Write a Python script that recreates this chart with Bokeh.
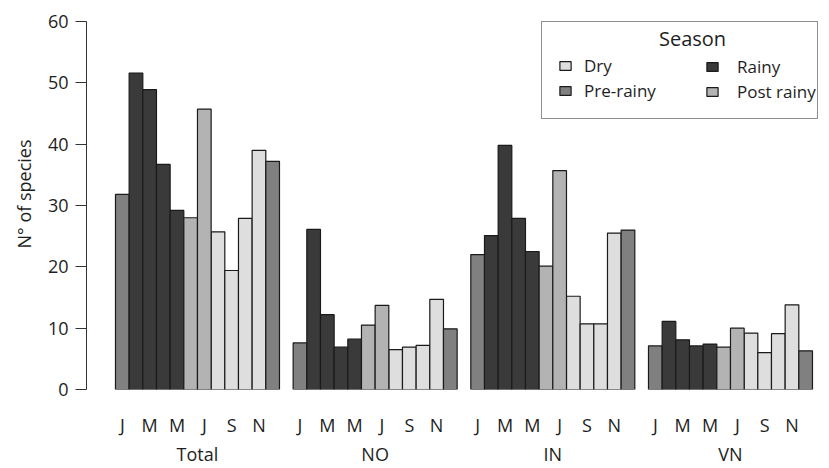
from bokeh.plotting import figure
from bokeh.models import (ColumnDataSource, FixedTicker, Legend, LegendItem,
                          Range1d, Label, LinearAxis, Title)
from bokeh.embed import file_html
from bokeh.resources import INLINE

# ---------------- data ----------------
sites = ["Total", "NO", "IN", "VN"]
months = ["Jan", "Feb", "Mar", "Apr", "May", "Jun",
          "Jul", "Aug", "Sep", "Oct", "Nov", "Dec"]
month_tick_months = ["Jan", "Mar", "May", "Jul", "Sep", "Nov"]
month_tick_labels = ["J", "M", "M", "J", "S", "N"]
month_season = ["Pre-rainy", "Rainy", "Rainy", "Rainy", "Rainy", "Post rainy",
                "Post rainy", "Dry", "Dry", "Dry", "Dry", "Pre-rainy"]
total_values = [31.8, 51.6, 48.9, 36.7, 29.2, 28.0, 45.7, 25.7, 19.4, 27.9, 39.0, 37.2]
no_values = [7.6, 26.1, 12.2, 6.9, 8.2, 10.5, 13.7, 6.5, 6.9, 7.2, 14.7, 9.9]
in_values = [22.0, 25.1, 39.8, 27.9, 22.5, 20.1, 35.7, 15.2, 10.7, 10.7, 25.5, 26.0]
vn_values = [7.1, 11.1, 8.1, 7.1, 7.4, 6.9, 10.0, 9.2, 6.0, 9.1, 13.8, 6.3]
seasons = ["Dry", "Pre-rainy", "Rainy", "Post rainy"]
season_colors = ["#dedede", "#808080", "#3a3a3a", "#b3b3b3"]
y_ticks = [0, 10, 20, 30, 40, 50, 60]

site_values = [total_values, no_values, in_values, vn_values]
FONT = "Open Sans"
TXT = "#1e1e1e"
GROUP_STEP = len(months) + 1  # one empty slot between sites


def xpos(g, m):
    return g * GROUP_STEP + m


p = figure(width=829, height=468, output_backend="svg", toolbar_location=None,
           x_range=Range1d(-2.62, 50.94), y_range=Range1d(0, 60),
           min_border_left=86, min_border_right=11, min_border_top=21,
           min_border_bottom=79)
p.outline_line_color = None
p.xgrid.visible = False
p.ygrid.visible = False
p.background_fill_color = "white"
p.border_fill_color = "white"

renderers = {}
for s, c in zip(seasons, season_colors):
    xs, tops = [], []
    for g, vals in enumerate(site_values):
        for m, v in enumerate(vals):
            if month_season[m] == s:
                xs.append(xpos(g, m))
                tops.append(v)
    src = ColumnDataSource(dict(x=xs, top=tops))
    renderers[s] = p.vbar(x="x", top="top", width=1.0, bottom=0, source=src,
                          fill_color=c, line_color="#1a1a1a", line_width=1.2)

# y axis
p.yaxis.ticker = FixedTicker(ticks=y_ticks)
p.yaxis.minor_tick_line_color = None
p.yaxis.major_tick_in = 0
p.yaxis.major_tick_out = 11
p.yaxis.axis_line_color = "#333333"
p.yaxis.major_tick_line_color = "#333333"
p.yaxis.major_label_text_font = FONT
p.yaxis.major_label_text_font_size = "18px"
p.yaxis.major_label_text_color = TXT
p.yaxis.major_label_standoff = 7

p.add_layout(Title(text="N° of species", align="left", offset=141,
                   text_font=FONT, text_font_size="18px",
                   text_font_style="normal", text_color=TXT, standoff=18),
             "left")

# x axis: month initials
ticks, overrides = [], {}
for g in range(len(sites)):
    for mname, lab in zip(month_tick_months, month_tick_labels):
        t = xpos(g, months.index(mname))
        ticks.append(t)
        overrides[t] = lab
xa = p.xaxis[0]
xa.ticker = FixedTicker(ticks=ticks)
xa.major_label_overrides = overrides
xa.axis_line_color = None
xa.major_tick_line_color = None
xa.minor_tick_line_color = None
xa.major_label_text_font = FONT
xa.major_label_text_font_size = "18px"
xa.major_label_text_color = TXT
xa.major_label_standoff = 17

# second x axis: site names
site_ticks = [xpos(g, 5.5) for g in range(len(sites))]
site_axis = LinearAxis(ticker=FixedTicker(ticks=site_ticks),
                       major_label_overrides=dict(zip(site_ticks, sites)))
site_axis.axis_line_color = None
site_axis.major_tick_line_color = None
site_axis.minor_tick_line_color = None
site_axis.major_label_text_font = FONT
site_axis.major_label_text_font_size = "18px"
site_axis.major_label_text_color = TXT
site_axis.major_label_standoff = -4
p.add_layout(site_axis, "below")

# legend: box + first column
items_a = [LegendItem(label=s, renderers=[renderers[s]]) for s in seasons[:2]]
leg_a = Legend(items=items_a, location="top_right", title="\u00a0")
leg_a.title_text_font_size = "10px"
leg_a.title_standoff = 5
leg_a.label_text_font = FONT
leg_a.label_text_font_size = "17px"
leg_a.label_text_color = TXT
leg_a.glyph_width = 14
leg_a.glyph_height = 11
leg_a.label_standoff = 12
leg_a.label_width = 217
leg_a.label_height = 20
leg_a.spacing = 2
leg_a.padding = 16
leg_a.margin = 0
leg_a.border_line_color = "#222222"
leg_a.border_line_width = 1
leg_a.background_fill_alpha = 0
p.add_layout(leg_a, "center")

# legend: second column
items_b = [LegendItem(label=s, renderers=[renderers[s]]) for s in seasons[2:]]
leg_b = Legend(items=items_b, location=(619, 286))
leg_b.label_text_font = FONT
leg_b.label_text_font_size = "17px"
leg_b.label_text_color = TXT
leg_b.glyph_width = 14
leg_b.glyph_height = 11
leg_b.label_standoff = 18
leg_b.label_height = 20
leg_b.spacing = 2
leg_b.padding = 0
leg_b.margin = 0
leg_b.border_line_alpha = 0
leg_b.background_fill_alpha = 0
p.add_layout(leg_b, "center")

p.add_layout(Label(x=606, y=351.5, x_units="screen", y_units="screen",
                   text="Season", text_align="center", text_baseline="middle",
                   text_font=FONT, text_font_size="20px", text_color=TXT))

open("out.html", "w").write(file_html(p, INLINE))
